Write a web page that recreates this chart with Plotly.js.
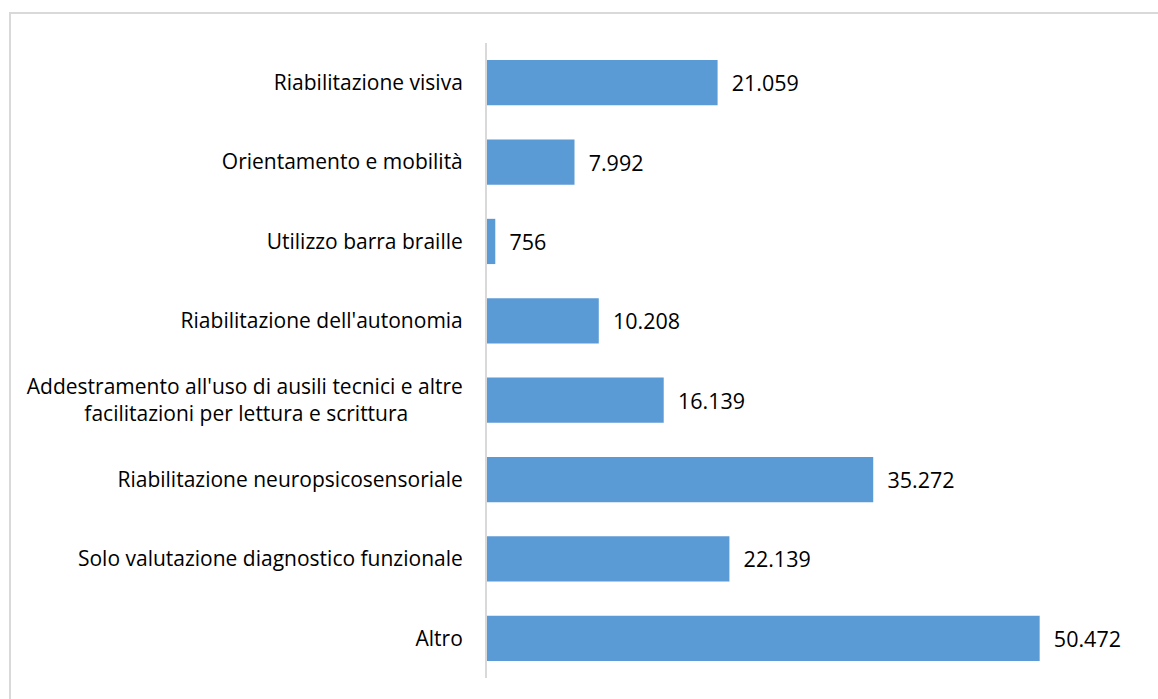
<!DOCTYPE html>
<html>
<head>
<meta charset="utf-8">
<script src="https://cdn.plot.ly/plotly-3.0.1.min.js"></script>
<style>html,body{margin:0;padding:0;background:#fff;}#chart{width:1158px;height:699px;}</style>
</head>
<body>
<div id="chart"></div>
<script>
const categories = [
  "Riabilitazione visiva",
  "Orientamento e mobilità",
  "Utilizzo barra braille",
  "Riabilitazione dell'autonomia",
  "Addestramento all'uso di ausili tecnici e altre<br>facilitazioni per lettura e scrittura",
  "Riabilitazione neuropsicosensoriale",
  "Solo valutazione diagnostico funzionale",
  "Altro"
];
const values = [21059, 7992, 756, 10208, 16139, 35272, 22139, 50472];

const W = 1158, H = 699;
const L = 487, R = 14, T = 43, B = 21;
const pw = W - L - R, ph = H - T - B;
const px = x => (x - L) / pw;
const py = y => (H - B - y) / ph;
const FONT = '"Open Sans", "Noto Sans", sans-serif';
const NB = '\u00a0';

// center the second line of the two-line label by padding it on the right
const tickText = categories.map(c => c.includes('<br>') ? c + NB.repeat(10) : c);

const trace = {
  type: 'bar',
  orientation: 'h',
  y: categories,
  x: values,
  marker: {color: '#5B9BD5'},
  texttemplate: NB.repeat(2) + '%{x:,}',
  textposition: 'outside',
  cliponaxis: false,
  textfont: {family: FONT, size: 21.5, color: '#000'},
  hoverinfo: 'none'
};

const layout = {
  width: W, height: H,
  margin: {l: L, r: R, t: T, b: B, pad: 0},
  paper_bgcolor: '#fff',
  plot_bgcolor: '#fff',
  separators: ',.',
  bargap: 0.43,
  showlegend: false,
  font: {family: FONT, size: 21, color: '#000'},
  xaxis: {
    range: [0, 60000],
    visible: false,
    showgrid: false,
    zeroline: false,
    fixedrange: true
  },
  yaxis: {
    autorange: 'reversed',
    showline: true,
    linecolor: '#d9d9d9',
    linewidth: 2,
    ticks: '',
    tickmode: 'array',
    tickvals: categories,
    ticktext: tickText,
    ticklabelstandoff: 18,
    showgrid: false,
    zeroline: false,
    tickfont: {family: FONT, size: 21, color: '#000'},
    fixedrange: true
  },
  shapes: [{
    type: 'rect', xref: 'paper', yref: 'paper',
    x0: px(10), x1: px(1170), y0: py(710), y1: py(13),
    line: {color: '#d9d9d9', width: 2},
    fillcolor: 'rgba(0,0,0,0)', layer: 'below'
  }]
};

Plotly.newPlot('chart', [trace], layout, {staticPlot: true, displayModeBar: false});
</script>
</body>
</html>
